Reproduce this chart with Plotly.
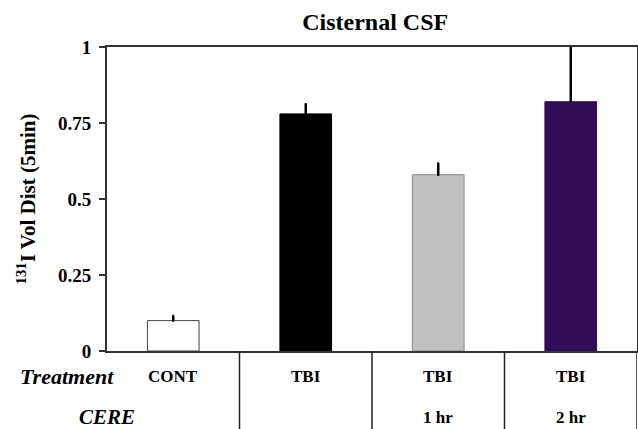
import plotly.graph_objects as go

categories = ["CONT", "TBI", "TBI 1 hr", "TBI 2 hr"]
treatment_labels = ["CONT", "TBI", "TBI", "TBI"]
cere_labels = ["", "", "1 hr", "2 hr"]
values = [0.10, 0.78, 0.58, 0.82]
errors = [0.015, 0.032, 0.037, 0.20]
bar_colors = ["#ffffff", "#000000", "#c0c0c0", "#310d58"]
line_colors = ["#444444", "#000000", "#888888", "#310d58"]
y_ticks = [0, 0.25, 0.5, 0.75, 1]
y_tick_text = ["0", "0.25", "0.5", "0.75", "1"]

SERIF = "Liberation Serif, Times New Roman, serif"
x_idx = list(range(len(categories)))

fig = go.Figure()
fig.add_trace(go.Bar(
    x=x_idx, y=values, width=0.39,
    marker=dict(color=bar_colors, line=dict(color=line_colors, width=1)),
    error_y=dict(type="data", symmetric=False, array=errors,
                 arrayminus=[0] * len(errors), visible=True, color="#000000",
                 thickness=2.5, width=1),
    hoverinfo="skip",
))

shapes = []
for i in range(len(categories)):
    b = i + 0.5
    shapes.append(dict(type="line", xref="x", yref="paper", x0=b, x1=b,
                       y0=0, y1=-0.26, line=dict(color="#222222", width=1.5)))

annotations = [
    dict(text="<b><i>Treatment</i></b>", xref="paper", yref="paper", x=-0.168, y=-0.085,
         xanchor="left", yanchor="middle", showarrow=False,
         font=dict(family=SERIF, size=22, color="#000")),
    dict(text="<b><i>CERE</i></b>", xref="paper", yref="paper", x=-0.056, y=-0.216,
         xanchor="left", yanchor="middle", showarrow=False,
         font=dict(family=SERIF, size=21, color="#000")),
]
for i, (t, c) in enumerate(zip(treatment_labels, cere_labels)):
    annotations.append(dict(text="<b>%s</b>" % t, xref="x", yref="paper", x=i, y=-0.085,
                            showarrow=False, yanchor="middle",
                            font=dict(family=SERIF, size=17, color="#000")))
    if c:
        annotations.append(dict(text="<b>%s</b>" % c, xref="x", yref="paper", x=i, y=-0.218,
                                showarrow=False, yanchor="middle",
                                font=dict(family=SERIF, size=17, color="#000")))

fig.update_layout(
    width=638, height=429,
    margin=dict(l=107, r=1, t=47, b=78),
    paper_bgcolor="white", plot_bgcolor="white",
    showlegend=False,
    title=dict(text="<b>Cisternal CSF</b>", x=(107 + 637) / 2 / 638 + 0.005, xanchor="center",
               y=1 - 22 / 429, yanchor="middle",
               font=dict(family=SERIF, size=24, color="#000")),
    xaxis=dict(range=[-0.5, 3.5], showticklabels=False, ticks="", showgrid=False,
               zeroline=False, showline=True, linecolor="#333333", linewidth=2, mirror=True),
    yaxis=dict(range=[0, 1], tickvals=y_ticks, ticktext=["<b>%s</b>" % t for t in y_tick_text],
               ticks="outside", ticklen=6, tickwidth=2, tickcolor="#333333",
               ticklabelstandoff=4,
               showgrid=False, zeroline=False, showline=True, linecolor="#333333",
               linewidth=2, mirror=True, automargin=False,
               tickfont=dict(family=SERIF, size=19, color="#000"),
               title=dict(text="<b><sup>131</sup>I Vol Dist (5min)</b>", standoff=17,
                          font=dict(family=SERIF, size=21, color="#000"))),
    shapes=shapes, annotations=annotations,
    bargap=0.6,
)

fig.write_html("out.html", config={"displayModeBar": False},
               post_script="document.body.style.margin='0';")
